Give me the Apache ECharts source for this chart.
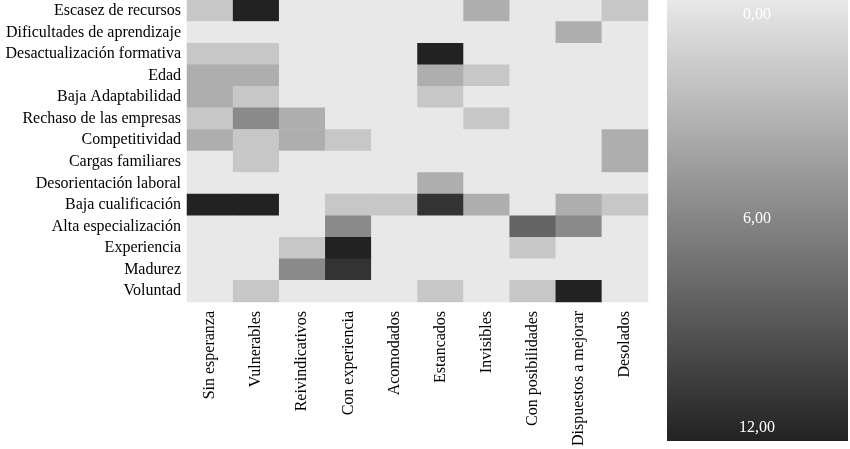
<!DOCTYPE html>
<html><head><meta charset="utf-8">
<script src="https://cdn.jsdelivr.net/npm/echarts@6/dist/echarts.min.js"></script>
<style>html,body{margin:0;background:#fff}#chart{width:850px;height:449px}</style>
</head><body><div id="chart"></div>
<script>
const COLS=['Sin esperanza','Vulnerables','Reivindicativos','Con experiencia','Acomodados','Estancados','Invisibles','Con posibilidades','Dispuestos a mejorar','Desolados'];
const ROWS=['Escasez de recursos','Dificultades de aprendizaje','Desactualización formativa','Edad','Baja Adaptabilidad','Rechaso de las empresas','Competitividad','Cargas familiares','Desorientación laboral','Baja cualificación','Alta especialización','Experiencia','Madurez','Voluntad'];
const VALUES=[
  [2,12,0,0,0,0,3.5,0,0,2],
  [0,0,0,0,0,0,0,0,3.5,0],
  [2,2,0,0,0,12,0,0,0,0],
  [3.5,3.5,0,0,0,3.5,2,0,0,0],
  [3.5,2,0,0,0,2,0,0,0,0],
  [2,5.7,3.5,0,0,0,2,0,0,0],
  [3.5,2,3.5,2,0,0,0,0,0,3.5],
  [0,2,0,0,0,0,0,0,0,3.5],
  [0,0,0,0,0,3.5,0,0,0,0],
  [12,12,0,2,2,11,3.5,0,3.5,2],
  [0,0,0,5.7,0,0,0,8,5.7,0],
  [0,0,2,12,0,0,0,2,0,0],
  [0,0,5.7,11,0,0,0,0,0,0],
  [0,2,0,0,0,2,0,2,12,0]
];
const LEGEND_LABELS=['0,00','6,00','12,00'];
const LIGHT='#e8e8e8', DARK='#222222';

const data=[];
VALUES.forEach((r,i)=>r.forEach((v,j)=>data.push([j,i,v])));
const chart=echarts.init(document.getElementById('chart'));
const font='"Liberation Serif", serif';
chart.setOption({
  animation:false,
  grid:{left:187,top:0,width:461,height:306},
  xAxis:{type:'category',data:COLS,axisLine:{show:false},axisTick:{show:false},splitLine:{show:false},
    axisLabel:{rotate:90,color:'#000',fontFamily:font,fontSize:16,margin:9}},
  yAxis:{type:'category',data:ROWS,inverse:true,axisLine:{show:false},axisTick:{show:false},
    axisLabel:{color:'#000',fontFamily:font,fontSize:16,margin:6}},
  visualMap:{type:'continuous',min:0,max:12,show:false,inRange:{color:[LIGHT,DARK]}},
  graphic:[
    {type:'rect',shape:{x:667,y:0,width:181,height:441},z:1,
      style:{fill:new echarts.graphic.LinearGradient(0,0,0,1,[{offset:0,color:LIGHT},{offset:1,color:DARK}])}},
    ...LEGEND_LABELS.map((t,i)=>({type:'text',x:757,y:[15,219,428][i],z:2,
      style:{text:t,fill:'#fff',font:'16px '+font,textAlign:'center',textVerticalAlign:'middle'}}))
  ],
  series:[{type:'heatmap',data,itemStyle:{borderWidth:0}}]
});
</script></body></html>
